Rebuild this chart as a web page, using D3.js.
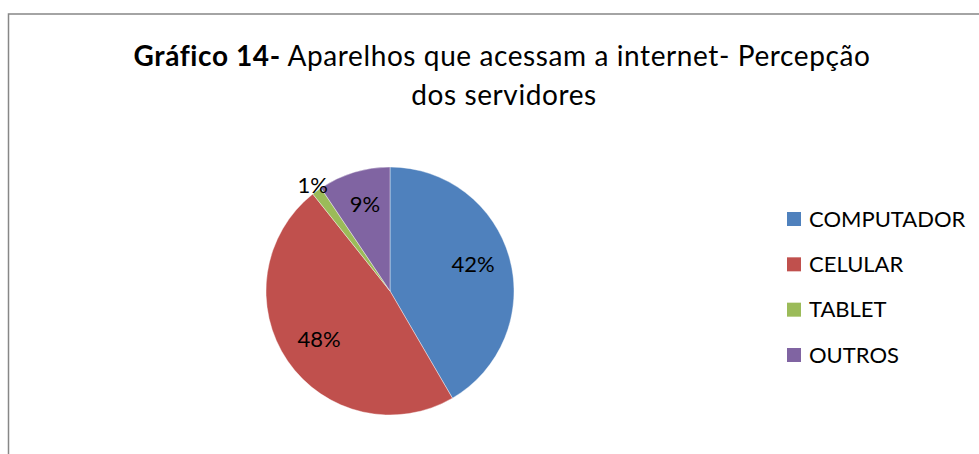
<!DOCTYPE html>
<html>
<head>
<meta charset="utf-8">
<script src="https://cdn.jsdelivr.net/npm/d3@7"></script>
<style>
  body { margin: 0; background: #fff; }
  svg { display: block; font-family: Lato, "Open Sans", sans-serif; }
</style>
</head>
<body>
<script>
// dados do gráfico
const categories = ['COMPUTADOR', 'CELULAR', 'TABLET', 'OUTROS'];
const values = [41.6, 47.7, 1.3, 9.4];
const labels = ['42%', '48%', '1%', '9%'];
const colors = ['#4F81BD', '#C0504D', '#9BBB59', '#8064A2'];

const width = 979;
const height = 454;

const svg = d3.select('body').append('svg')
  .attr('width', width)
  .attr('height', height);

// moldura (cortada à direita e embaixo)
svg.append('rect')
  .attr('x', 8.5).attr('y', 14)
  .attr('width', 1000).attr('height', 500)
  .attr('fill', 'none')
  .attr('stroke', '#878787')
  .attr('stroke-width', 1.5);

// título
const title = svg.append('text')
  .attr('text-anchor', 'middle')
  .attr('font-size', 28)
  .attr('letter-spacing', 0.6)
  .attr('fill', '#000');
const l1 = title.append('tspan').attr('x', 502).attr('y', 66);
l1.append('tspan').attr('font-weight', 'bold').text('Gráfico 14-');
l1.append('tspan').text(' Aparelhos que acessam a internet- Percepção');
title.append('tspan').attr('x', 504).attr('y', 105).text('dos servidores');

// pizza
const cx = 390, cy = 291, r = 124;
const pie = d3.pie().sort(null).value(d => d.value);
const data = categories.map((c, i) => ({ cat: c, value: values[i], label: labels[i], color: colors[i] }));
const arcs = pie(data);

const arc = d3.arc().innerRadius(0).outerRadius(r);
const g = svg.append('g').attr('transform', `translate(${cx},${cy})`);

g.selectAll('path')
  .data(arcs)
  .join('path')
  .attr('d', arc)
  .attr('fill', d => d.data.color)
  .attr('stroke', '#fff')
  .attr('stroke-width', 0.4);

// rótulos de dados
const labelArc = d3.arc().innerRadius(86).outerRadius(86);
const outerArc = d3.arc().innerRadius(131).outerRadius(131);
g.selectAll('text.lbl')
  .data(arcs)
  .join('text')
  .attr('class', 'lbl')
  .attr('transform', d => {
    const p = d.data.cat === 'TABLET' ? outerArc.centroid(d) : labelArc.centroid(d);
    const dy = d.data.cat === 'COMPUTADOR' || d.data.cat === 'OUTROS' ? -4 : 0;
    return `translate(${p[0]},${p[1] + dy})`;
  })
  .attr('text-anchor', 'middle')
  .attr('dy', '0.35em')
  .attr('font-size', 22)
  .attr('fill', '#000')
  .text(d => d.data.label);

// legenda
const legendY = d3.scalePoint().domain(categories).range([219, 355]);
const legend = svg.append('g');
const item = legend.selectAll('g')
  .data(data)
  .join('g')
  .attr('transform', d => `translate(787,${legendY(d.cat)})`);
item.append('rect')
  .attr('x', 0).attr('y', -7)
  .attr('width', 14).attr('height', 14)
  .attr('fill', d => d.color);
item.append('text')
  .attr('x', 22)
  .attr('dy', '0.35em')
  .attr('font-size', 22)
  .attr('fill', '#000')
  .text(d => d.cat);
</script>
</body>
</html>
